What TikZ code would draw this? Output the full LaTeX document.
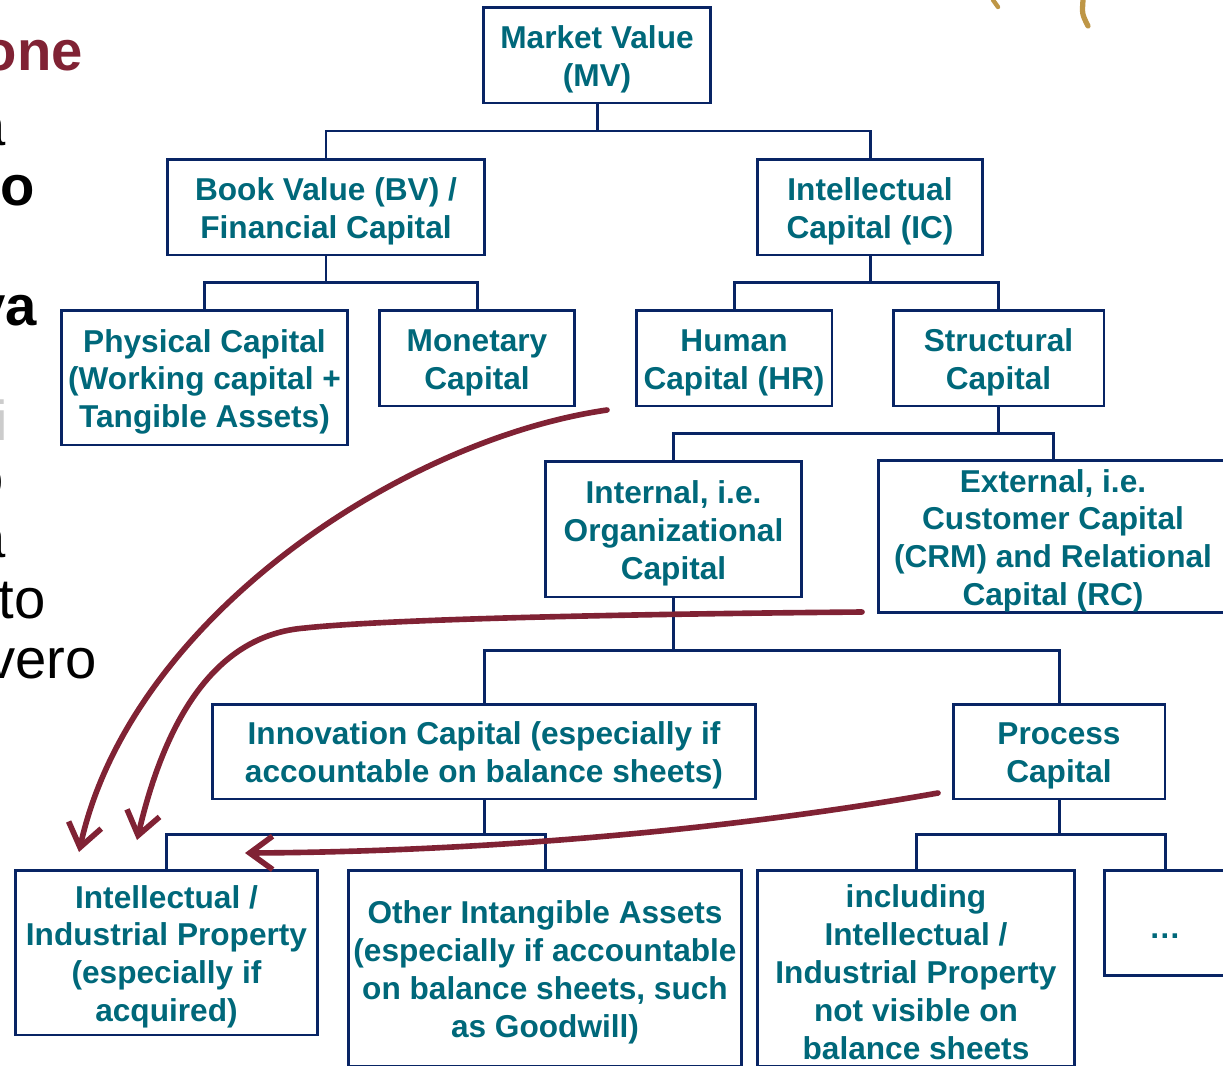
\documentclass[tikz,border=0pt]{standalone}
\usepackage{fontspec}
\setmainfont{Liberation Sans}
\usetikzlibrary{arrows.meta,calc}
\definecolor{boxblue}{RGB}{8,36,100}
\definecolor{labelteal}{RGB}{0,104,122}
\definecolor{markred}{RGB}{128,34,52}
\definecolor{twig}{RGB}{190,150,70}
\newcommand{\toprule}{\rule{0pt}{17.8pt}}
\tikzstyle{block} = [rectangle, draw=boxblue, line width=1.7pt, text=labelteal,
    align=center, inner sep=0pt, font=\bfseries\fontsize{18}{21.5}\selectfont]
\tikzstyle{tree} = [-, draw=boxblue, line width=1.7pt,
    to path={|- ($(\tikztostart)!.5!(\tikztotarget)$) -| (\tikztotarget)}]
\tikzstyle{handarrow} = [draw=markred, line width=3.2pt, line cap=round, line join=round,
    -{Straight Barb[length=13pt,width=19pt]}]
\tikzstyle{slidetext} = [anchor=base east, inner sep=0pt, font=\fontsize{32}{38}\selectfont]

\begin{document}
\begin{tikzpicture}[x=0.02cm,y=-0.02cm]
  \useasboundingbox (0,0) rectangle (1223,1065);
  \clip (0,0) rectangle (1223,1065);

  % slide text cut off at the left edge
  \node[slidetext, text=markred, font=\bfseries\fontsize{32}{38}\selectfont] (frOne) at (83,70) {one};
  \node[slidetext] (frA) at (6,145) {a};
  \node[slidetext, font=\bfseries\fontsize{32}{38}\selectfont] (frO) at (35,205) {o};
  \node[slidetext, font=\bfseries\fontsize{32}{38}\selectfont] (frVa) at (37,325) {va};
  \node[slidetext, text=gray!40] (frI) at (8,440) {i};
  \node[slidetext] (frO2) at (4,497) {o};
  \node[slidetext] (frA2) at (6,557) {a};
  \node[slidetext] (frTo) at (46,618) {to};
  \node[slidetext] (frVero) at (97,678) {vero};

  % picture fragment, top right
  \draw[twig, line width=3pt, line cap=round] (1083,0) .. controls (1082,14) .. (1088,26);
  \draw[twig, line width=2.5pt, line cap=round] (993,0) -- (998,7);

  \node[block, minimum width=4.54cm, minimum height=1.92cm] (mv)  at (597,55)  {\toprule Market Value\\(MV)};
  \node[block, minimum width=6.36cm, minimum height=1.92cm] (bv)  at (326,207) {\toprule Book Value (BV) /\\Financial Capital};
  \node[block, minimum width=4.52cm, minimum height=1.92cm] (ic)  at (870,207) {\toprule Intellectual\\Capital (IC)};
  \node[block, minimum width=5.74cm, minimum height=2.7cm]  (phys) at (204.5,377.5) {\toprule Physical Capital\\(Working capital +\\Tangible Assets)};
  \node[block, minimum width=3.92cm, minimum height=1.92cm] (mon) at (477,358) {\toprule Monetary\\Capital};
  \node[block, minimum width=3.92cm, minimum height=1.92cm] (hr)  at (734,358) {\toprule Human\\Capital (HR)};
  \node[block, minimum width=4.22cm, minimum height=1.92cm] (sc)  at (998.5,358) {\toprule Structural\\Capital};
  \node[block, minimum width=5.14cm, minimum height=2.72cm] (org) at (673.5,529) {\toprule Internal, i.e.\\Organizational\\Capital};
  \node[block, minimum width=7.0cm,  minimum height=3.02cm] (ext) at (1053,536.5) {\toprule External, i.e.\\Customer Capital\\(CRM) and Relational\\Capital (RC)};
  \node[block, minimum width=10.88cm, minimum height=1.9cm] (inno) at (484,751.5) {\toprule Innovation Capital (especially if\\accountable on balance sheets)};
  \node[block, minimum width=4.24cm, minimum height=1.9cm] (proc) at (1059,751.5) {\toprule Process\\Capital};
  \node[block, minimum width=6.06cm, minimum height=3.3cm] (ip)   at (166.5,952.5) {\toprule Intellectual /\\Industrial Property\\(especially if\\acquired)};
  \node[block, minimum width=7.88cm, minimum height=3.92cm] (oia)  at (545,968) {\toprule Other Intangible Assets\\(especially if accountable\\on balance sheets, such\\as Goodwill)};
  \node[block, minimum width=6.36cm, minimum height=3.92cm] (incl) at (916,968) {\toprule including\\Intellectual /\\Industrial Property\\not visible on\\balance sheets};
  \node[block, minimum width=2.44cm, minimum height=2.1cm]  (more) at (1165,922.5) {\toprule\ldots};

  \path (mv.south)   edge[tree] (bv.north)   edge[tree] (ic.north)
        (bv.south)   edge[tree] (phys.north) edge[tree] (mon.north)
        (ic.south)   edge[tree] (hr.north)   edge[tree] (sc.north)
        (sc.south)   edge[tree] (org.north)  edge[tree] (ext.north)
        (org.south)  edge[tree] (inno.north) edge[tree] (proc.north)
        (inno.south) edge[tree] (ip.north)   edge[tree] (oia.north)
        (proc.south) edge[tree] (incl.north) edge[tree] (more.north);

  % hand drawn arrows
  \coordinate (hrFrom) at (607,410);
  \coordinate (orgFrom) at (862,612);
  \coordinate (procFrom) at (938,793);
  \coordinate (ipTipA) at (79,852);
  \coordinate (ipTipB) at (137,840);
  \coordinate (ipTipC) at (245,853);
  \draw[handarrow] (hrFrom) .. controls (400,440) and (130,620) .. (ipTipA);
  \draw[handarrow] (orgFrom) .. controls (520,615) and (360,622) .. (305,628)
                   .. controls (215,635) and (165,720) .. (ipTipB);
  \draw[handarrow] (procFrom) .. controls (700,835) and (450,852) .. (ipTipC);
\end{tikzpicture}
\end{document}
